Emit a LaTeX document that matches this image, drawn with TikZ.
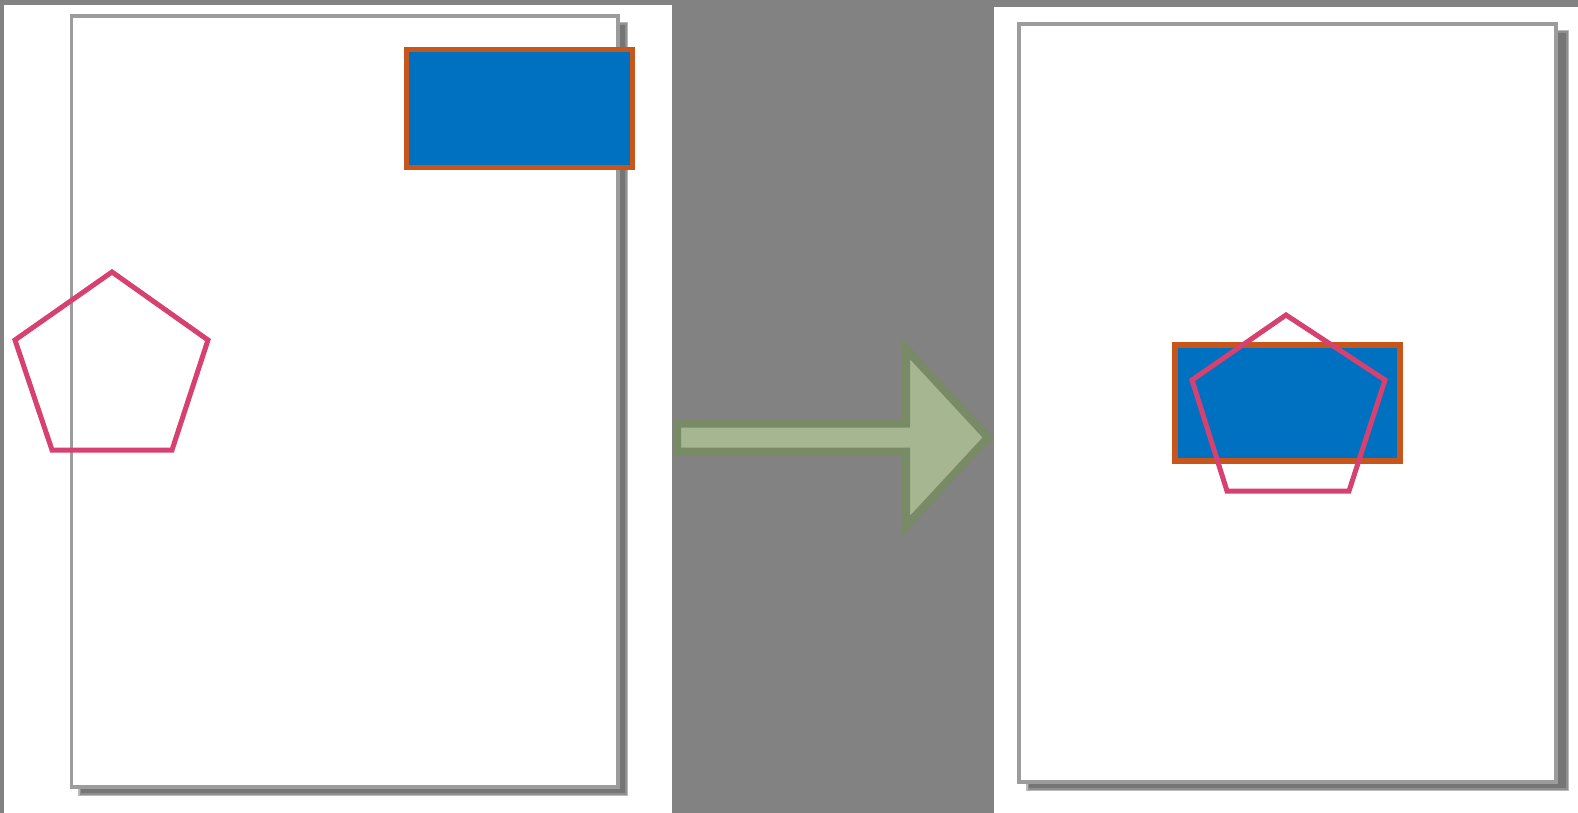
\documentclass[tikz,border=0pt]{standalone}
\begin{document}
\begin{tikzpicture}[x=0.5pt,y=-0.5pt]
\definecolor{bgray}{HTML}{828282}
\definecolor{shadowgray}{HTML}{505050}
\definecolor{pageborder}{HTML}{9C9C9C}
\definecolor{boxblue}{HTML}{0070C0}
\definecolor{boxorange}{HTML}{C8561A}
\definecolor{pentpink}{HTML}{D6416F}
\definecolor{arrowfill}{HTML}{A6B691}
\definecolor{arrowline}{HTML}{788A66}
\tikzset{
  panel/.style={fill=white},
  pageshadow/.style={fill=shadowgray, opacity=0.4},
  page/.style={fill=white, draw=pageborder, line width=1.8pt},
  bluebox/.style={fill=boxblue, draw=boxorange, line width=2.6pt},
  pent/.style={draw=pentpink, line width=2.5pt, line join=miter},
  bigarrow/.style={fill=arrowfill, draw=arrowline, line width=4pt, line join=miter}
}
\useasboundingbox (0,0) rectangle (1578,813);
\fill[bgray] (0,0) rectangle (1578,813);
% arrow
\filldraw[bigarrow] (677,423.5) -- (906,423.5) -- (906,349) -- (988,437.5) -- (906,526) -- (906,451.5) -- (677,451.5) -- cycle;
% left panel
\fill[panel] (4,5) rectangle (672,813);
\foreach \d in {0,1.5,3} {
  \fill[pageshadow] (78+\d,22+\d) rectangle (628-\d,796-\d);
}
\filldraw[page] (71.5,16) rectangle (618,787);
\filldraw[bluebox] (406.5,49.5) rectangle (632.5,167.5);
\draw[pent] (112,272) -- (208,340) -- (172,450) -- (52,450) -- (15,340) -- cycle;
% right panel
\fill[panel] (994,7) rectangle (1578,813);
\foreach \d in {0,1.5,3} {
  \fill[pageshadow] (1026+\d,30+\d) rectangle (1569-\d,791-\d);
}
\filldraw[page] (1019,24) rectangle (1556,782);
\filldraw[bluebox] (1175,345) rectangle (1400,461);
\draw[pent] (1286,315) -- (1385,380) -- (1349,491) -- (1227,491) -- (1192,380) -- cycle;
\end{tikzpicture}
\end{document}
